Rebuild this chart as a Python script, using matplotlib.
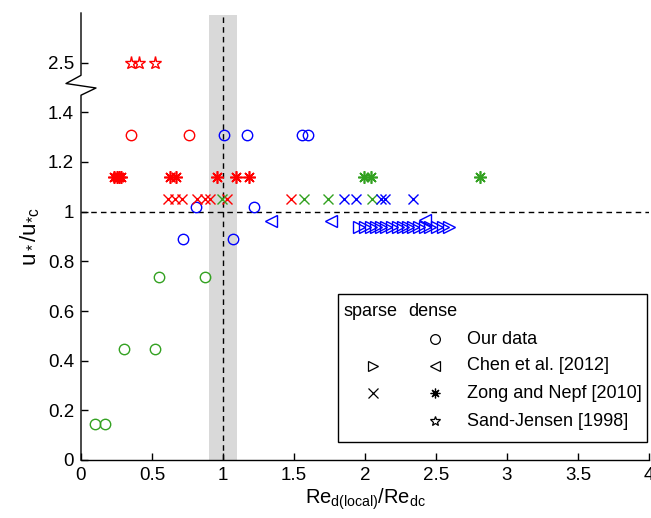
import numpy as np
import matplotlib.pyplot as plt
from matplotlib.patches import Rectangle

plt.rcParams['font.family'] = ['Liberation Sans', 'DejaVu Sans']
plt.rcParams['mathtext.fontset'] = 'custom'
plt.rcParams['mathtext.rm'] = 'Liberation Sans'
plt.rcParams['mathtext.it'] = 'Liberation Sans:italic'

RED = (1, 0, 0)
BLUE = (0, 0, 1)
GREEN = (0.2, 0.63, 0.13)

# Our data (circles)
ours_red_x = [0.35, 0.76]
ours_red_y = [1.31, 1.31]
ours_blue_x = [1.01, 1.17, 1.555, 1.60, 0.81, 1.22, 0.72, 1.07]
ours_blue_y = [1.31, 1.31, 1.31, 1.31, 1.02, 1.02, 0.89, 0.89]
ours_green_x = [0.10, 0.17, 0.30, 0.52, 0.55, 0.87]
ours_green_y = [0.145, 0.145, 0.447, 0.447, 0.735, 0.735]

# Chen et al. 2012
chen_sparse_x = [1.96, 2.00, 2.04, 2.08, 2.11, 2.15, 2.19, 2.23, 2.27,
                 2.30, 2.34, 2.38, 2.42, 2.46, 2.51, 2.55, 2.59]
chen_sparse_y = [0.94] * len(chen_sparse_x)
chen_dense_x = [1.34, 1.76, 2.42]
chen_dense_y = [0.963, 0.963, 0.966]

# Zong and Nepf 2010
zong_sparse_red_x = [0.61, 0.66, 0.71, 0.82, 0.87, 0.91, 1.03, 1.48]
zong_sparse_green_x = [0.99, 1.57, 1.74, 2.05]
zong_sparse_blue_x = [1.85, 1.94, 2.11, 2.14, 2.34]
zong_sparse_y = 1.05
zong_dense_red_x = [0.235, 0.25, 0.265, 0.285, 0.63, 0.67, 0.955, 1.09, 1.18]
zong_dense_green_x = [1.99, 2.04, 2.81]
zong_dense_y = 1.14

# Sand-Jensen 1998
sand_x = [0.35, 0.41, 0.52]
sand_y = [2.5, 2.5, 2.5]

yticks = [0, 0.2, 0.4, 0.6, 0.8, 1, 1.2, 1.4, 2.5]
ytick_labels = ['0', '0.2', '0.4', '0.6', '0.8', '1', '1.2', '1.4', '2.5']
xticks = [0, 0.5, 1, 1.5, 2, 2.5, 3, 3.5, 4]
xtick_labels = ['0', '0.5', '1', '1.5', '2', '2.5', '3', '3.5', '4']

BREAK = 1.5   # axis is cut above this value
SHIFT = 0.9   # values above the cut are moved down by this much


def squash(y):
    y = np.asarray(y, dtype=float)
    return np.where(y > BREAK, y - SHIFT, y)


fig = plt.figure(figsize=(6.51, 5.18), dpi=100)
ax = fig.add_axes([81 / 651, 1 - 460 / 518, 568 / 651, 447 / 518])

ax.axvspan(0.9, 1.1, ymin=0, ymax=0.995, color='#d9d9d9', lw=0, zorder=0)
ax.axhline(1, color='k', ls='--', dashes=(4, 3), lw=1, zorder=1)
ax.axvline(1, color='k', ls='--', dashes=(4, 3), lw=1, zorder=1)

circ = dict(ls='none', marker='o', ms=7.5, mfc='none', mew=1)
ax.plot(ours_red_x, squash(ours_red_y), mec=RED, **circ)
ax.plot(ours_blue_x, squash(ours_blue_y), mec=BLUE, **circ)
ax.plot(ours_green_x, squash(ours_green_y), mec=GREEN, **circ)

tri = dict(ls='none', ms=9, mfc='none', mew=1, mec=BLUE)
ax.plot(chen_sparse_x, squash(chen_sparse_y), marker='>', **tri)
ax.plot(chen_dense_x, squash(chen_dense_y), marker='<', **tri)

cross = dict(ls='none', marker='x', ms=6.5, mew=1)
ax.plot(zong_sparse_red_x, squash([zong_sparse_y] * len(zong_sparse_red_x)), color=RED, **cross)
ax.plot(zong_sparse_green_x, squash([zong_sparse_y] * len(zong_sparse_green_x)), color=GREEN, **cross)
ax.plot(zong_sparse_blue_x, squash([zong_sparse_y] * len(zong_sparse_blue_x)), color=BLUE, **cross)

aster = dict(ls='none', marker=(8, 2, 0), ms=9, mew=1.2)
ax.plot(zong_dense_red_x, squash([zong_dense_y] * len(zong_dense_red_x)), color=RED, **aster)
ax.plot(zong_dense_green_x, squash([zong_dense_y] * len(zong_dense_green_x)), color=GREEN, **aster)

ax.plot(sand_x, squash(sand_y), ls='none', marker='*', ms=9.5, mfc='none', mew=1, mec=RED)

ax.set_xlim(0, 4)
ax.set_ylim(0, 1.8)
ax.set_xticks(xticks)
ax.set_xticklabels(xtick_labels)
ax.set_yticks(squash(yticks))
ax.set_yticklabels(ytick_labels)
ax.tick_params(direction='in', length=5, width=1, labelsize=13.5, pad=5)

for side in ['top', 'right', 'left']:
    ax.spines[side].set_visible(False)
ax.spines['bottom'].set_linewidth(1)

# left axis line with a zig-zag where it is cut
zx = np.array([0, 0, -15, 15, 0, 0]) / 568
zy = [1.8, 1.549, 1.516, 1.498, 1.469, 0]
ax.plot(zx, zy, color='k', lw=1, transform=ax.get_yaxis_transform(),
        clip_on=False, zorder=5)

ax.set_ylabel(r'$\mathregular{u_*/u_{*c}}$', fontsize=16, labelpad=4)
ax.set_xlabel(r'$\mathregular{Re_{d(local)}/Re_{dc}}$', fontsize=14.5, labelpad=2)


def px(x, y):
    return ((x - 81) / 568, (460 - y) / 447)


# legend box with sparse / dense marker columns
x0, y0 = px(338, 442)
x1, y1 = px(647, 294)
ax.add_patch(Rectangle((x0, y0), x1 - x0, y1 - y0, transform=ax.transAxes,
                       fc='white', ec='k', lw=1, zorder=10, clip_on=False))
tkw = dict(transform=ax.transAxes, fontsize=13, va='center', ha='left', zorder=11)
ax.text(*px(343, 312), 'sparse', **tkw)
ax.text(*px(408, 312), 'dense', **tkw)

legend_names = ['Our data', 'Chen et al. [2012]', 'Zong and Nepf [2010]', 'Sand-Jensen [1998]']
legend_sparse = [None, '>', 'x', None]
legend_dense = ['o', '<', (8, 2, 0), '*']
row_y = [339, 366, 393, 421]
for name, ms_, md_, ry in zip(legend_names, legend_sparse, legend_dense, row_y):
    ax.text(*px(467, ry), name, **tkw)
    if ms_ is not None:
        ax.plot(*px(373, ry), marker=ms_, ms=6.5, mfc='none', mec='k', mew=0.9,
                transform=ax.transAxes, zorder=11, clip_on=False)
    ax.plot(*px(435, ry), marker=md_, ms=7, mfc='none', mec='k', mew=0.9,
            transform=ax.transAxes, zorder=11, clip_on=False)

fig.savefig('out.png', dpi=100)
